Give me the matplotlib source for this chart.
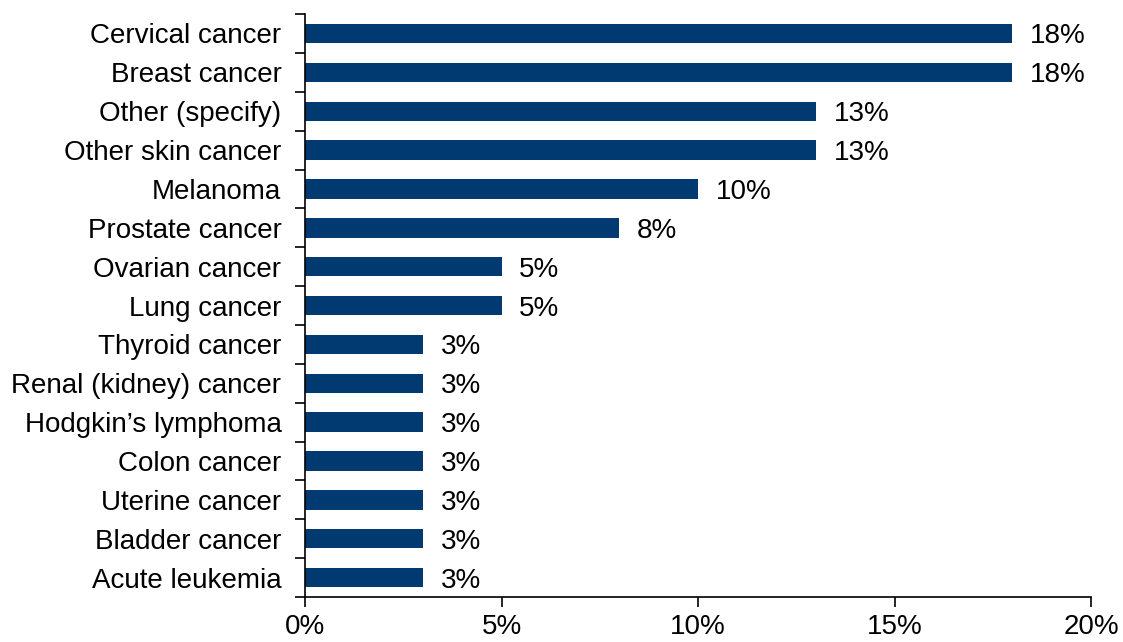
import numpy as np
import matplotlib.pyplot as plt
from matplotlib.ticker import FixedLocator, PercentFormatter

plt.rcParams['font.family'] = ['Liberation Sans', 'DejaVu Sans']

# data, top to bottom
categories = ["Cervical cancer", "Breast cancer", "Other (specify)", "Other skin cancer",
              "Melanoma", "Prostate cancer", "Ovarian cancer", "Lung cancer",
              "Thyroid cancer", "Renal (kidney) cancer", "Hodgkin\u2019s lymphoma",
              "Colon cancer", "Uterine cancer", "Bladder cancer", "Acute leukemia"]
values = [18, 18, 13, 13, 10, 8, 5, 5, 3, 3, 3, 3, 3, 3, 3]

bar_color = "#003A70"

fig = plt.figure(figsize=(11.23, 6.42), dpi=100)
ax = fig.add_axes([0.2716, 0.0701, 0.7, 0.908])

y = np.arange(len(categories))
ax.barh(y, values, height=0.5, color=bar_color)

for yi, v in zip(y, values):
    ax.text(v + 0.45, yi, f"{v}%", va="center_baseline", ha="left", fontsize=20)

ax.set_xlim(0, 20)
ax.set_ylim(len(categories) - 0.5, -0.5)
ax.set_xticks([0, 5, 10, 15, 20])
ax.xaxis.set_major_formatter(PercentFormatter(decimals=0))
ax.set_yticks(y)
ax.set_yticklabels(categories)
ax.yaxis.set_minor_locator(FixedLocator(np.arange(-0.5, len(categories), 1)))
ax.tick_params(axis="y", which="major", length=0, pad=17, labelsize=20)
ax.tick_params(axis="y", which="minor", length=7, width=1.2, direction="out")
ax.tick_params(axis="x", length=7, width=1.2, direction="out", labelsize=20, pad=5)

for s in ["top", "right"]:
    ax.spines[s].set_visible(False)
ax.spines["left"].set_linewidth(1.2)
ax.spines["bottom"].set_linewidth(1.2)

fig.savefig("out.png", dpi=100)
